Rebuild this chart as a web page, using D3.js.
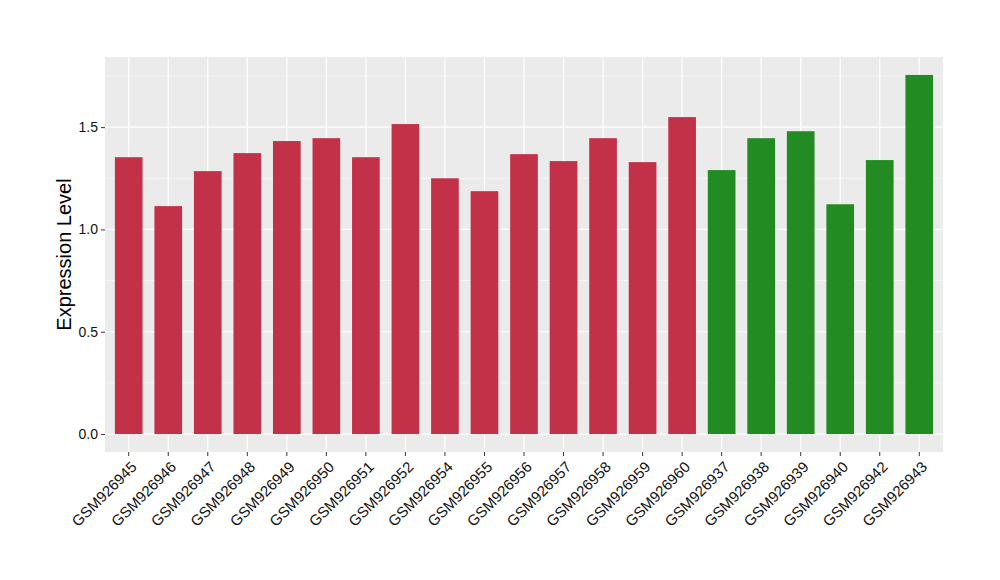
<!DOCTYPE html>
<html><head><meta charset="utf-8">
<script src="https://cdn.jsdelivr.net/npm/d3@7"></script>
<style>body{margin:0;background:#fff;} text{font-family:"Liberation Sans",Arial,sans-serif;}</style>
</head><body>
<svg id="c" width="1000" height="580"></svg>
<script>
const categories = ["GSM926945","GSM926946","GSM926947","GSM926948","GSM926949","GSM926950","GSM926951","GSM926952","GSM926954","GSM926955","GSM926956","GSM926957","GSM926958","GSM926959","GSM926960","GSM926937","GSM926938","GSM926939","GSM926940","GSM926942","GSM926943"];
const values = [1.353,1.114,1.285,1.373,1.432,1.446,1.353,1.515,1.250,1.187,1.368,1.334,1.446,1.329,1.549,1.290,1.446,1.480,1.123,1.339,1.755];
const groups = ["a","a","a","a","a","a","a","a","a","a","a","a","a","a","a","b","b","b","b","b","b"];
const groupColors = {a:"#c33149", b:"#228b22"};
const yTicks = [0,0.5,1.0,1.5];
const yMinor = [0.25,0.75,1.25,1.75];

const svg = d3.select("#c");
const L=105, R=943, T=57, B=452;
const maxV = d3.max(values);
const pad = maxV*0.05;
const y = d3.scaleLinear().domain([-pad, maxV+pad]).range([B,T]);
const n = categories.length;
const step = (R-L)/(n+0.2);
const x = d3.scaleBand().domain(categories).range([L+0.1*step, R-0.1*step]).paddingInner(0.3).paddingOuter(0.15);

svg.append("rect").attr("x",L).attr("y",T).attr("width",R-L).attr("height",B-T).attr("fill","#ebebeb");
const g = svg.append("g");
g.selectAll(".mn").data(yMinor).join("line").attr("x1",L).attr("x2",R).attr("y1",d=>y(d)).attr("y2",d=>y(d)).attr("stroke","#fff").attr("stroke-width",0.6);
g.selectAll(".mj").data(yTicks).join("line").attr("x1",L).attr("x2",R).attr("y1",d=>y(d)).attr("y2",d=>y(d)).attr("stroke","#fff").attr("stroke-width",1.2);
g.selectAll(".vx").data(categories).join("line").attr("x1",d=>x(d)+x.bandwidth()/2).attr("x2",d=>x(d)+x.bandwidth()/2).attr("y1",T).attr("y2",B).attr("stroke","#fff").attr("stroke-width",1.2);

svg.selectAll(".bar").data(values).join("rect")
  .attr("x",(d,i)=>x(categories[i]))
  .attr("width",x.bandwidth())
  .attr("y",d=>y(d)).attr("height",d=>y(0)-y(d))
  .attr("fill",(d,i)=>groupColors[groups[i]]);

// y axis
const ya = svg.append("g").attr("transform",`translate(${L},0)`)
  .call(d3.axisLeft(y).tickValues(yTicks).tickFormat(d3.format(".1f")).tickSize(4).tickPadding(3));
ya.select(".domain").remove();
ya.selectAll(".tick line").attr("stroke","#333");
ya.selectAll("text").attr("font-size",14).attr("fill","#111");

// x axis
const xa = svg.append("g").attr("transform",`translate(0,${B})`)
  .call(d3.axisBottom(x).tickSize(4).tickPadding(3));
xa.select(".domain").remove();
xa.selectAll(".tick line").attr("stroke","#333");
xa.selectAll("text").attr("font-size",15).attr("fill","#111")
  .attr("text-anchor","end").attr("dy",null).attr("y",null)
  .attr("transform","translate(1,8) rotate(-45)")
  .attr("dominant-baseline","hanging");

svg.append("text").attr("transform",`translate(71,${(T+B)/2}) rotate(-90)`)
  .attr("text-anchor","middle").attr("font-size",20).attr("fill","#000").text("Expression Level");
</script>
</body></html>
